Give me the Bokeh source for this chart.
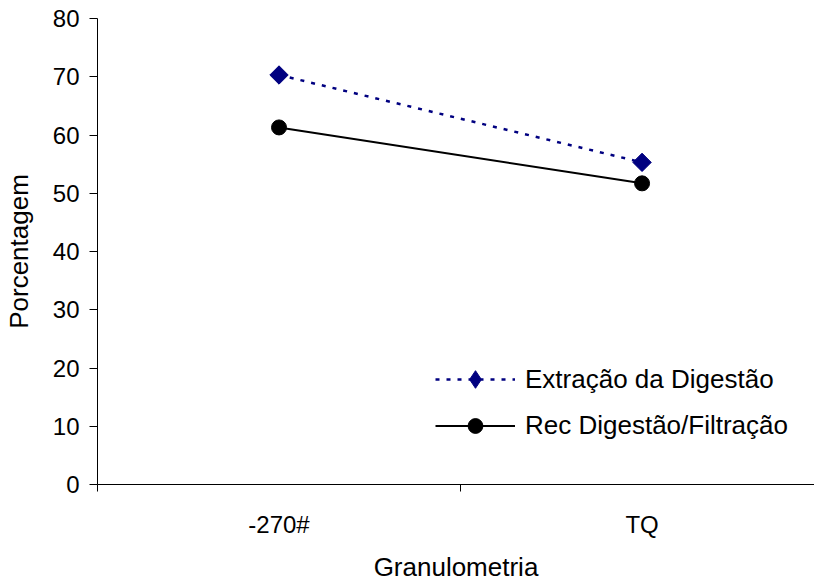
import numpy as np
from bokeh.plotting import figure
from bokeh.models import Range1d, FixedTicker, Legend, LegendItem, ColumnDataSource
from bokeh.embed import file_html
from bokeh.resources import INLINE

categories = ["-270#", "TQ"]
extracao = [70.3, 55.3]
rec = [61.3, 51.7]
y_ticks = [0, 10, 20, 30, 40, 50, 60, 70, 80]

xpos = [i + 0.5 for i in range(len(categories))]
FONT = "Liberation Sans"
NAVY = "#000080"

p = figure(width=814, height=584, output_backend="svg", toolbar_location=None,
           x_range=Range1d(0, 1.975), y_range=Range1d(0, 80),
           min_border_left=97, min_border_top=18, min_border_bottom=99, min_border_right=0)
p.outline_line_color = None
p.xgrid.grid_line_color = None
p.ygrid.grid_line_color = None
p.background_fill_color = "white"

src1 = ColumnDataSource(dict(x=xpos, y=extracao))
src2 = ColumnDataSource(dict(x=xpos, y=rec))

l1 = p.line("x", "y", source=src1, line_color=NAVY, line_width=2.5, line_dash="4 7")
# diamond used for the legend (legend glyphs are drawn unrotated); hidden under the rotated square
m1_leg = p.scatter("x", "y", source=src1, marker="diamond", size=17,
                   fill_color=NAVY, line_color=NAVY)
p.scatter("x", "y", source=src1, marker="square", angle=np.pi / 4, size=13,
          fill_color=NAVY, line_color=NAVY)
l2 = p.line("x", "y", source=src2, line_color="black", line_width=2)
m2 = p.scatter("x", "y", source=src2, marker="circle", size=15,
               fill_color="black", line_color="black")

# x axis
xa = p.xaxis[0]
xa.ticker = FixedTicker(ticks=xpos, minor_ticks=[0, 1, 2])
xa.major_label_overrides = {x: c for x, c in zip(xpos, categories)}
xa.major_tick_out = 0
xa.major_tick_in = 0
xa.minor_tick_out = 7
xa.minor_tick_in = 0
xa.minor_tick_line_color = "black"
xa.axis_line_color = "black"
xa.major_label_standoff = 19
xa.axis_label = "Granulometria"
xa.axis_label_standoff = 11
xa.axis_label_text_font_style = "normal"

# y axis
ya = p.yaxis[0]
ya.ticker = FixedTicker(ticks=y_ticks)
ya.major_tick_out = 8
ya.major_tick_in = 0
ya.minor_tick_line_color = None
ya.axis_line_color = "black"
ya.major_tick_line_color = "black"
ya.major_label_standoff = 10
ya.axis_label = "Porcentagem"
ya.axis_label_standoff = 16
ya.axis_label_text_font_style = "normal"

for ax in (xa, ya):
    ax.major_label_text_font = FONT
    ax.major_label_text_font_size = "24px"
    ax.major_label_text_color = "black"
    ax.axis_label_text_font = FONT
    ax.axis_label_text_font_size = "26px"
    ax.axis_label_text_color = "black"
    ax.axis_line_width = 1


def make_legend(label, renderers, gh, loc):
    lg = Legend(items=[LegendItem(label=label, renderers=renderers)], location=loc)
    lg.border_line_color = None
    lg.background_fill_alpha = 0
    lg.padding = 0
    lg.margin = 0
    lg.glyph_width = 80
    lg.glyph_height = gh
    lg.label_standoff = 10
    lg.label_text_font = FONT
    lg.label_text_font_size = "26px"
    lg.label_text_color = "black"
    return lg


p.add_layout(make_legend("Extração da Digestão", [l1, m1_leg], 44, (338, 83)))
p.add_layout(make_legend("Rec Digestão/Filtração", [l2, m2], 37, (338, 40)))

open("out.html", "w").write(file_html(p, INLINE))
